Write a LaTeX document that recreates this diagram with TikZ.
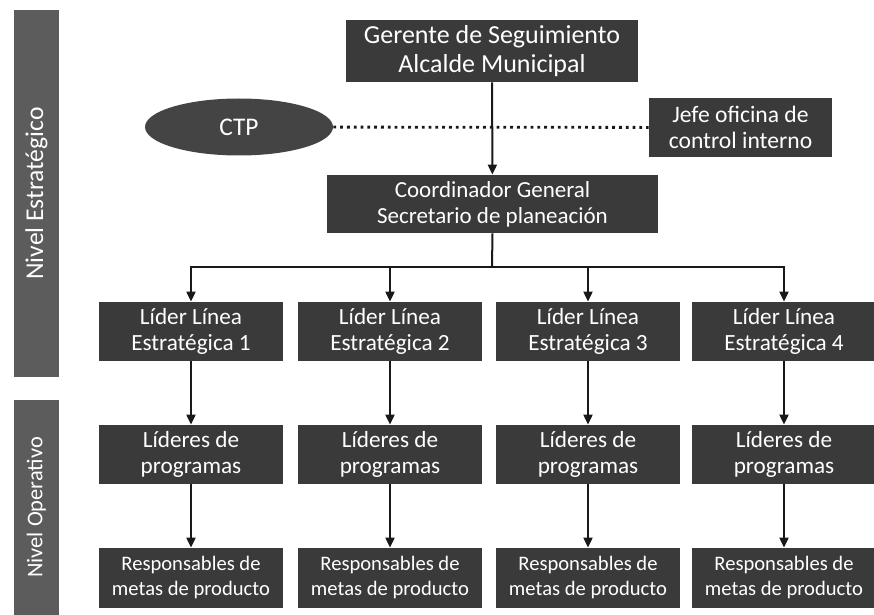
\documentclass[tikz,border=0pt]{standalone}
\usepackage{fontspec}
\setsansfont{Carlito}
\usetikzlibrary{arrows.meta,positioning,shapes.geometric}
\definecolor{cajagris}{HTML}{3A3A3A}
\definecolor{nivelgris}{HTML}{5C5C5C}

\begin{document}
\begin{tikzpicture}[
  x=0.5pt,y=-0.5pt,
  font=\sffamily,
  caja/.style={fill=cajagris,text=white,align=center,inner sep=0pt,
               minimum width=92pt,minimum height=29.5pt,
               font=\sffamily\fontsize{11.6}{13}\selectfont},
  nivel/.style={fill=nivelgris,text=white,rotate=90,inner sep=0pt,
                minimum height=22.5pt},
  flow/.style={-{Triangle[length=5pt,width=4.5pt]},line width=1pt,draw=black!90},
]
  \useasboundingbox (0,0) rectangle (874,615);

  % niveles
  \node[nivel,minimum width=183.5pt,font=\sffamily\fontsize{12.8}{14}\selectfont]
        (estrat) at (36.5,193.5) {Nivel Estratégico};
  \node[nivel,minimum width=107.5pt,font=\sffamily\fontsize{11.2}{13}\selectfont]
        (operat) at (36.5,507.5) {Nivel Operativo};

  % nivel estrategico
  \node[caja,minimum width=146pt,minimum height=31pt,
        font=\sffamily\fontsize{13}{14.5}\selectfont]
        (gerente) at (492,51) {Gerente de Seguimiento\\Alcalde Municipal};
  \node[caja,minimum width=165.5pt,minimum height=29pt,
        font=\sffamily\fontsize{11.5}{13}\selectfont]
        (coord) at (492.5,204) {Coordinador General\\Secretario de planeación};
  \node[caja,ellipse,fill=cajagris!95!white,minimum width=94pt,minimum height=28.5pt,
        font=\sffamily\fontsize{12.7}{14}\selectfont]
        (ctp) at (239,127) {CTP};
  \node[caja,minimum width=91.5pt,font=\sffamily\fontsize{11.8}{13}\selectfont]
        (jefe) at (740.5,127.5) {Jefe oficina de\\control interno};

  \draw[line width=1.4pt,dotted,draw=black!90] (ctp) -- (jefe);
  \draw[flow] (gerente) -- (coord);

  \coordinate (bus) at (492,267);
  \draw[line width=1pt,draw=black!90] (coord.south) -- (bus);

  % lineas estrategicas y nivel operativo
  \foreach \i/\x in {1/191,2/390,3/588,4/784}{
    \node[caja] (lider\i) at (\x,331.5) {Líder Línea\\Estratégica \i};
    \node[caja] (prog\i)  at (\x,454.5) {Líderes de\\programas};
    \node[caja,minimum height=30pt,font=\sffamily\fontsize{10.3}{12.5}\selectfont]
          (resp\i) at (\x,578) {Responsables de\\metas de producto};
    \draw[flow] (bus) -| (lider\i.north);
    \draw[flow] (lider\i) -- (prog\i);
    \draw[flow] (prog\i) -- (resp\i);
  }
\end{tikzpicture}
\end{document}
